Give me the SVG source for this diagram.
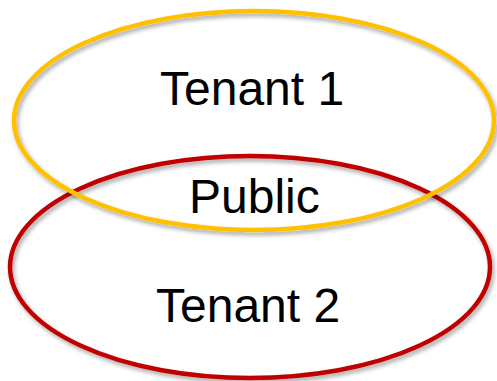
<svg xmlns="http://www.w3.org/2000/svg" width="497" height="381" viewBox="0 0 497 381">
<defs>
<filter id="sh" x="-10%" y="-10%" width="120%" height="130%">
<feDropShadow dx="2" dy="3" stdDeviation="2" flood-color="#000" flood-opacity="0.35"/>
</filter>
</defs>
<style>
.ring{fill:none;stroke-width:4.5;filter:url(#sh)}
.lbl{font-family:"Liberation Sans",Arial,sans-serif;font-size:48px;fill:#000}
</style>
<rect width="497" height="381" fill="#fff"/>
<g id="tenant2">
<ellipse class="ring" cx="250" cy="267" rx="240" ry="111" stroke="#C00000"/>
<text class="lbl" x="156" y="322">Tenant 2</text>
</g>
<g id="tenant1">
<ellipse class="ring" cx="254" cy="120.5" rx="240" ry="109.5" stroke="#FFC000"/>
<text class="lbl" x="160" y="105">Tenant 1</text>
</g>
<g id="public">
<text class="lbl" x="189" y="213">Public</text>
</g>
<g id="connectors"/>
</svg>
